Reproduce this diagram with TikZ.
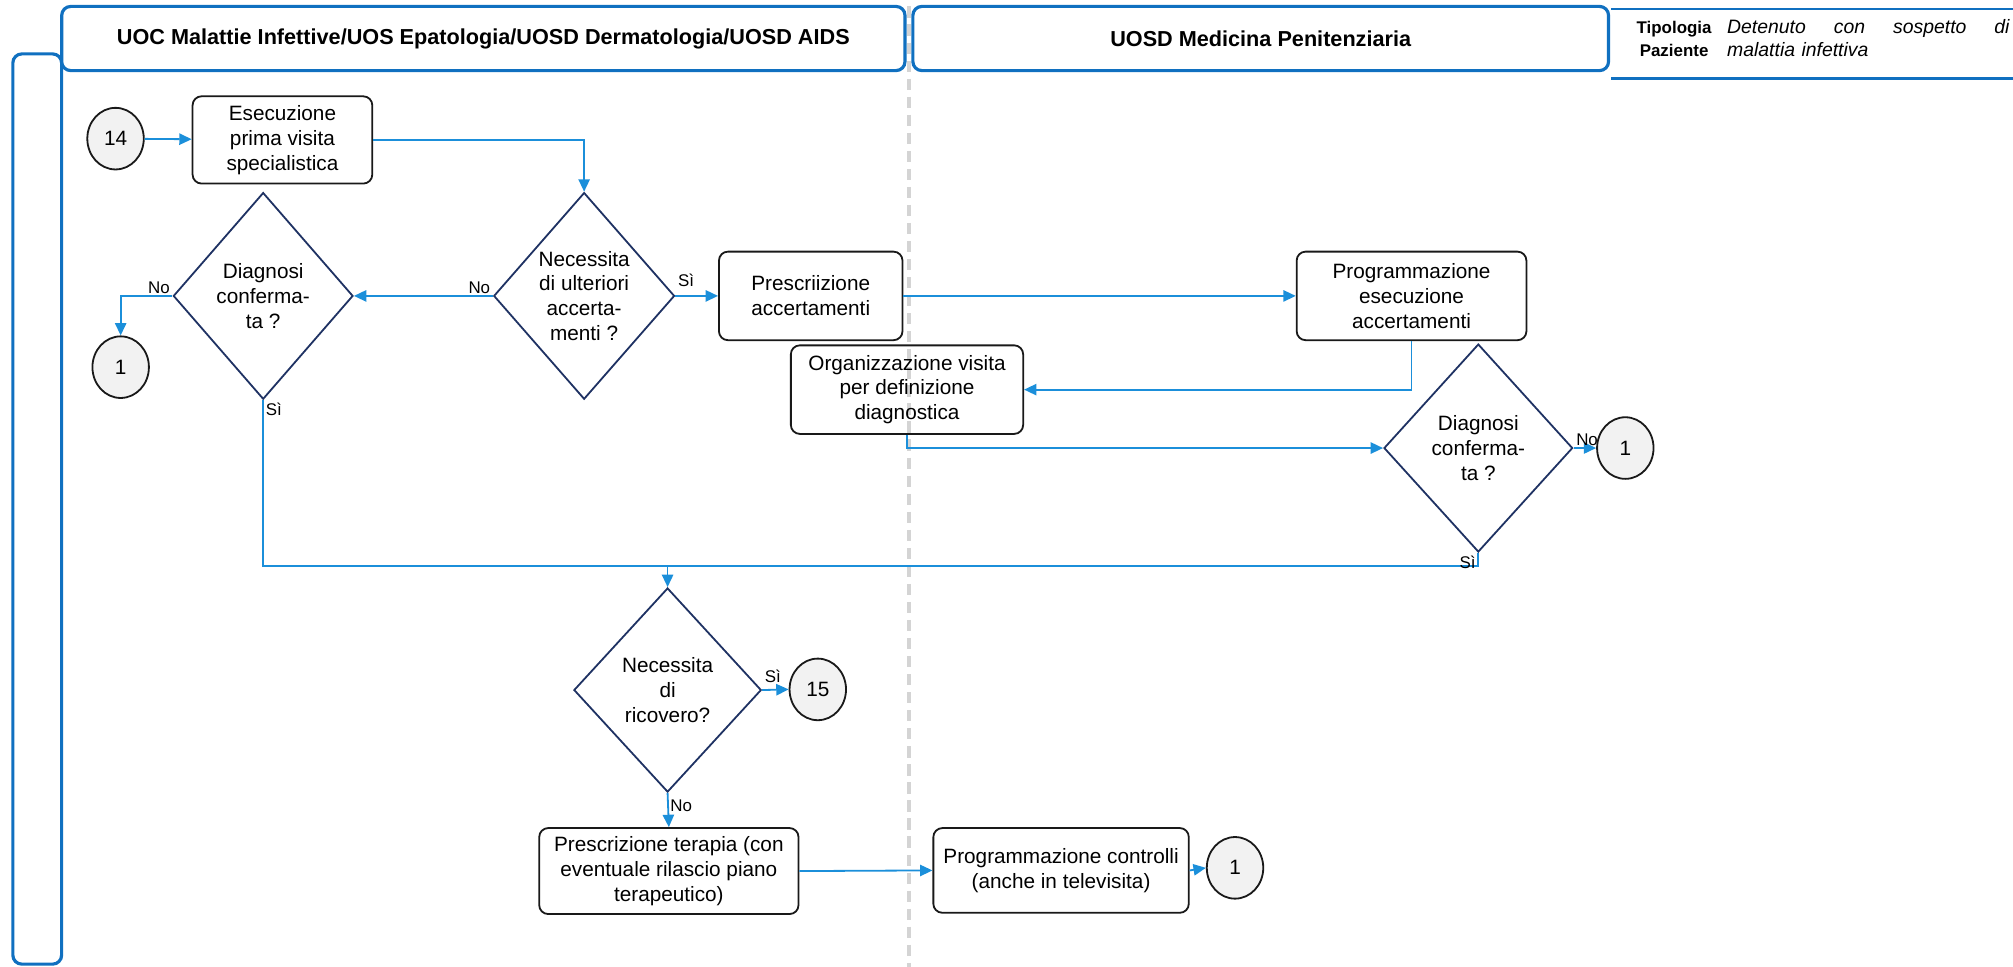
\documentclass[tikz,border=0pt]{standalone}
\usepackage{fontspec}
\setmainfont{Liberation Sans}
\usetikzlibrary{arrows.meta,shapes.geometric,calc}
\definecolor{lane}{RGB}{16,112,192}
\definecolor{flow}{RGB}{27,143,218}
\definecolor{navy}{RGB}{31,50,99}
\definecolor{connfill}{RGB}{242,242,242}
\definecolor{sepgray}{RGB}{212,212,212}
\begin{document}
\begin{tikzpicture}[x=0.02cm,y=-0.02cm,
  every node/.style={font=\fontsize{9.2}{11}\selectfont},
  task/.style={draw=black!90, line width=0.8pt, rounded corners=0.14cm, align=center, inner sep=0pt},
  decision/.style={diamond, draw=navy, line width=0.8pt, align=center, inner sep=0pt,
                   minimum width=2.8cm, minimum height=3.22cm},
  conn/.style={ellipse, draw=black!90, line width=0.8pt, fill=connfill,
               minimum width=0.88cm, minimum height=0.96cm, inner sep=0pt},
  flowline/.style={draw=flow, line width=0.8pt},
  arr/.style={flowline, -{Triangle[length=5.5pt,width=5pt]}},
  lbl/.style={font=\fontsize{7.5}{9}\selectfont, inner sep=1pt},
  header/.style={draw=lane, line width=1.4pt, rounded corners=0.14cm, fill=white,
                 minimum height=1.0cm, font=\fontsize{9.6}{11}\selectfont\bfseries}
]
\useasboundingbox (0,0) rectangle (1568,753);

% lane separator
\draw[sepgray, line width=1.4pt, dash pattern=on 5pt off 3pt] (708,5) -- (708,753);

% left lane bracket
\draw[lane, line width=1.4pt, rounded corners=0.14cm] (10,42) rectangle (48,751);

% lane headers
\node[header, minimum width=13.14cm] (h1) at (376.5,30)
  {UOC Malattie Infettive/UOS Epatologia/UOSD Dermatologia/UOSD AIDS};
\node[header, minimum width=10.84cm] (h2) at (982,30) {UOSD Medicina Penitenziaria};

% patient type
\draw[lane, line width=0.8pt] (1255,7) -- (1568,7);
\draw[lane, line width=1.4pt] (1255,61) -- (1568,61);
\node[font=\fontsize{7.5}{10.2}\selectfont\bfseries, align=center] (tip) at (1304,30) {Tipologia\\Paziente};
\node[font=\fontsize{8.6}{10.2}\selectfont\itshape, align=left, text width=4.4cm, anchor=west, inner sep=0pt] (paz) at (1345,30)
  {\makebox[4.4cm]{Detenuto\hfill con\hfill sospetto\hfill di}\\malattia infettiva};

% flow nodes
\node[conn] (c14) at (90,108) {14};
\node[task, minimum width=2.8cm, minimum height=1.36cm] (esec) at (220,109) {Esecuzione\\prima visita\\specialistica};
\node[decision] (d2) at (455,230.5) {Necessita\\di ulteriori\\accerta-\\menti ?};
\node[decision] (d1) at (205,230.5) {Diagnosi\\conferma-\\ta ?};
\node[conn] (c1a) at (94,286) {1};
\node[task, minimum width=2.86cm, minimum height=1.38cm] (presc) at (631.5,230.5) {Prescriizione\\accertamenti};
\node[task, minimum width=3.58cm, minimum height=1.38cm] (progr) at (1099.5,230.5) {Programmazione\\esecuzione\\accertamenti};
\node[task, minimum width=3.62cm, minimum height=1.38cm] (organ) at (706.5,303.5) {Organizzazione visita\\per definizione\\diagnostica};
\node[decision, minimum width=2.94cm, minimum height=3.24cm] (d4) at (1151.5,349) {Diagnosi\\conferma-\\ta ?};
\node[conn] (c1b) at (1266,349) {1};
\node[decision, minimum width=2.92cm, minimum height=3.18cm] (d3) at (520,537.5) {Necessita\\di\\ricovero?};
\node[conn] (c15) at (637,537) {15};
\node[task, minimum width=4.04cm, minimum height=1.34cm] (terap) at (521,678.5) {Prescrizione terapia (con\\eventuale rilascio piano\\terapeutico)};
\node[task, minimum width=3.98cm, minimum height=1.32cm] (contr) at (826.5,678) {Programmazione controlli\\(anche in televisita)};
\node[conn] (c1c) at (962,676) {1};

\coordinate (merge) at (520,441);

% connectors
\draw[arr] (c14) -- (esec);
\draw[arr] (esec.east) -| (d2.north);
\draw[arr] (d2.west) -- (d1.east);
\draw[arr] (d1.west) -| (c1a.north);
\draw[arr] (d2.east) -- (presc.west);
\draw[arr] (presc.east) -- (progr.west);
\draw[arr] (progr.south) |- (organ.east);
\draw[arr] (organ.south) |- (d4.west);
\draw[arr] (d4.east) -- (c1b.west);
\draw[flowline] (d1.south) |- (merge);
\draw[flowline] (d4.south) |- (merge);
\draw[arr] (merge) -- (d3.north);
\draw[arr] (d3.east) -- (c15.west);
\draw[arr] (d3.south) -- (terap.north);
\draw[arr] (terap.east) -- (contr.west);
\draw[arr] (contr.east) -- (c1c.west);

% branch labels
\node[lbl, anchor=south east] (l1) at (d1.west) {No};
\node[lbl, anchor=north west] (l2) at (d1.south) {Sì};
\node[lbl, anchor=south east] (l3) at (d2.west) {No};
\node[lbl, anchor=south west, yshift=3pt] (l4) at (d2.east) {Sì};
\node[lbl, anchor=south west] (l5) at (d4.east) {No};
\node[lbl, anchor=north east] (l6) at (d4.south) {Sì};
\node[lbl, anchor=south west, yshift=2pt] (l7) at (d3.east) {Sì};
\node[lbl, anchor=north west, yshift=-2pt] (l8) at (d3.south) {No};
\end{tikzpicture}
\end{document}
